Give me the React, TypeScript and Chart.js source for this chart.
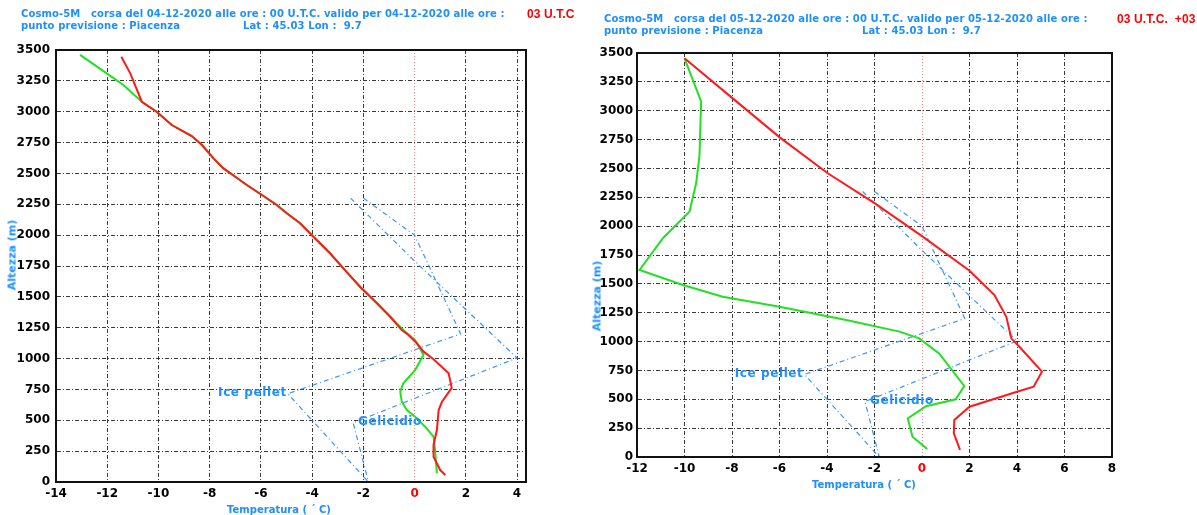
import React, { useEffect, useRef } from "react";
import { Chart, registerables } from "chart.js";

Chart.register(...registerables);

// ---------- Colours ----------
const RED = "#ff1a1a";
const GREEN = "#22e022";
const BLUE = "#1e8fff";
const BLUE_LINE = "#3a96ff";

// ---------- Axis ranges / ticks ----------
const heightMin = 0;
const heightMax = 3500;
const heightStep = 250;
const tempStep = 2;
const leftTempMin = -14;
const leftTempMax = 4.35;
const rightTempMin = -12;
const rightTempMax = 8;

// ---------- Left panel (04-12-2020) ----------
const leftTempHeights = [3445, 3311, 3081, 3000, 2892, 2803, 2730, 2622, 2541, 2473, 2406, 2325, 2244, 2177, 2096, 1987, 1853, 1731, 1582, 1448, 1339, 1231, 1191, 1124, 1083, 1056, 995, 880, 762, 650, 583, 421, 300, 205, 97, 57];
const leftTempValues = [-11.45, -11.1, -10.65, -10.07, -9.48, -8.7, -8.3, -7.85, -7.46, -7.0, -6.55, -5.96, -5.38, -4.99, -4.47, -3.95, -3.3, -2.78, -2.13, -1.47, -0.95, -0.5, -0.24, 0.09, 0.25, 0.35, 0.74, 1.33, 1.45, 1.07, 0.94, 0.87, 0.74, 0.74, 1.0, 1.2];
const leftDewHeights = [3460, 3311, 3216, 3081, 3000, 2892, 2803, 2730, 2622, 2541, 2473, 2406, 2325, 2244, 2177, 2096, 1987, 1853, 1731, 1582, 1448, 1339, 1231, 1150, 1029, 907, 800, 732, 651, 583, 516, 448, 367, 259, 70];
const leftDewValues = [-13.06, -12.02, -11.37, -10.65, -10.07, -9.48, -8.7, -8.3, -7.85, -7.46, -7.0, -6.55, -5.96, -5.38, -4.99, -4.47, -3.95, -3.3, -2.78, -2.13, -1.47, -0.95, -0.44, 0.02, 0.35, 0.02, -0.44, -0.56, -0.5, -0.3, 0.09, 0.41, 0.74, 0.8, 0.87];

// ---------- Right panel (05-12-2020) ----------
const rightTempHeights = [3454, 3107, 2769, 2458, 2200, 1909, 1614, 1403, 1215, 1028, 955, 739, 609, 566, 436, 320, 205, 61];
const rightTempValues = [-10.0, -7.97, -5.99, -3.97, -2.0, 0.03, 2.0, 3.05, 3.55, 3.76, 4.1, 5.05, 4.7, 4.0, 2.0, 1.36, 1.34, 1.6];
const rightDewHeights = [3454, 3080, 2606, 2371, 2125, 2068, 1895, 1620, 1490, 1389, 1302, 1187, 1086, 1028, 898, 615, 500, 440, 335, 176, 70];
const rightDewValues = [-10.0, -9.3, -9.37, -9.51, -9.79, -10.07, -10.91, -11.89, -10.07, -8.39, -6.0, -3.19, -0.95, -0.12, 0.72, 1.78, 1.42, 0.17, -0.6, -0.4, 0.22];

// ---------- Reference curves (same in both panels) ----------
const icePelletTemps = [-2.0, 0.0, 0.45, 1.8, -4.95, -1.8];
const icePelletHeights = [2300, 2000, 1800, 1200, 715, 0];
const icePelletVertex = 4;
const gelicidioTemps = [-2.5, 0.0, 4.0, -2.4, -1.8];
const gelicidioHeights = [2300, 1790, 1005, 480, 0];
const gelicidioVertex = 3;

const icePelletLabel = "Ice pellet";
const gelicidioLabel = "Gelicidio";
const xTitle = "Temperatura ( \u00b4 C)";
const yTitle = "Altezza (m)";

const zip = (xs: number[], ys: number[]) => xs.map((x, i) => ({ x, y: ys[i] }));

const TICK_FONT = { family: '"DejaVu Sans", sans-serif', weight: "bold" as const, size: 12 };

interface PanelGeom {
  canvasW: number;
  canvasH: number;
  plotLeft: number;
  plotRight: number;
  plotTop: number;
  plotBottom: number;
  xMin: number;
  xMax: number;
  yLabelPad: number;
  xLabelPad: number;
}

function makeConfig(g: PanelGeom, tempX: number[], tempY: number[], dewX: number[], dewY: number[]): any {
  const framePlugin = {
    id: "frame",
    afterDraw(chart: any) {
      const { ctx, chartArea: a } = chart;
      ctx.save();
      ctx.strokeStyle = "#111";
      ctx.lineWidth = 2;
      ctx.strokeRect(a.left, a.top, a.right - a.left, a.bottom - a.top);
      ctx.restore();
    },
  };
  const labelPlugin = {
    id: "curveLabels",
    afterDatasetsDraw(chart: any) {
      const { ctx, scales } = chart;
      const xs = scales.x;
      const ys = scales.y;
      ctx.save();
      ctx.font = 'bold 12px "DejaVu Sans", sans-serif';
      try { (ctx as any).letterSpacing = "0.6px"; } catch (e) {}
      ctx.fillStyle = BLUE;
      ctx.textBaseline = "middle";
      ctx.textAlign = "right";
      ctx.fillText(
        icePelletLabel,
        xs.getPixelForValue(icePelletTemps[icePelletVertex]) - 1,
        ys.getPixelForValue(icePelletHeights[icePelletVertex]) - 1
      );
      ctx.textAlign = "left";
      ctx.fillText(
        gelicidioLabel,
        xs.getPixelForValue(gelicidioTemps[gelicidioVertex]) + 5,
        ys.getPixelForValue(gelicidioHeights[gelicidioVertex]) - 1
      );
      ctx.restore();
    },
  };
  const gridColor = (ctx: any) => (ctx.tick && ctx.tick.value === 0 ? "rgba(255,90,90,0.75)" : "#3a3a3a");
  const gridDash = (ctx: any) => {
    if (!ctx.tick) return [];
    return ctx.tick.value === 0 ? [1, 2] : [4, 2, 1, 2];
  };
  return {
    type: "scatter",
    data: {
      datasets: [
        { data: zip(tempX, tempY), borderColor: RED, borderWidth: 2, showLine: true, pointRadius: 0, tension: 0 },
        { data: zip(dewX, dewY), borderColor: GREEN, borderWidth: 2, showLine: true, pointRadius: 0, tension: 0 },
        { data: zip(icePelletTemps, icePelletHeights), borderColor: BLUE_LINE, borderWidth: 1.2, borderDash: [5, 3, 1, 3], showLine: true, pointRadius: 0 },
        { data: zip(gelicidioTemps, gelicidioHeights), borderColor: BLUE_LINE, borderWidth: 1.2, borderDash: [5, 3, 1, 3], showLine: true, pointRadius: 0 },
      ],
    },
    options: {
      responsive: false,
      animation: false,
      events: [],
      layout: { padding: { left: 0, top: g.plotTop, right: g.canvasW - g.plotRight, bottom: 0 } },
      plugins: { legend: { display: false }, tooltip: { enabled: false }, title: { display: false } },
      scales: {
        x: {
          type: "linear",
          position: "bottom",
          min: g.xMin,
          max: g.xMax,
          afterFit: (s: any) => { s.height = g.canvasH - g.plotBottom; },
          ticks: {
            stepSize: tempStep,
            includeBounds: false,
            padding: g.xLabelPad,
            font: TICK_FONT,
            color: (ctx: any) => (ctx.tick && ctx.tick.value === 0 ? "#ff0000" : "#000"),
            callback: (v: any) => String(v),
          },
          grid: { color: gridColor, lineWidth: 1, drawTicks: false },
          border: { display: true, color: "#111", width: 2, dash: gridDash },
        },
        y: {
          type: "linear",
          position: "left",
          min: heightMin,
          max: heightMax,
          afterFit: (s: any) => { s.width = g.plotLeft; },
          ticks: {
            stepSize: heightStep,
            padding: g.yLabelPad,
            font: TICK_FONT,
            color: "#000",
            callback: (v: any) => String(v),
          },
          grid: { color: "#3a3a3a", lineWidth: 1, drawTicks: false },
          border: { display: true, color: "#111", width: 2, dash: gridDash },
        },
      },
    },
    plugins: [framePlugin, labelPlugin],
  };
}

const leftGeom: PanelGeom = {
  canvasW: 590, canvasH: 515, plotLeft: 56, plotRight: 526, plotTop: 50, plotBottom: 482,
  xMin: leftTempMin, xMax: leftTempMax, yLabelPad: 6, xLabelPad: 5,
};
const RIGHT_OFFSET = 590;
const rightGeom: PanelGeom = {
  canvasW: 607, canvasH: 515, plotLeft: 637 - RIGHT_OFFSET, plotRight: 1112 - RIGHT_OFFSET, plotTop: 53, plotBottom: 457,
  xMin: rightTempMin, xMax: rightTempMax, yLabelPad: 4, xLabelPad: 5,
};

const txt = (extra: React.CSSProperties): React.CSSProperties => ({
  position: "absolute",
  fontFamily: '"DejaVu Sans", sans-serif',
  fontWeight: "bold",
  fontSize: 10,
  lineHeight: "12px",
  color: BLUE,
  whiteSpace: "pre",
  letterSpacing: "0.1px",
  ...extra,
});

const centered = (x: number, y: number, extra: React.CSSProperties = {}): React.CSSProperties => ({
  position: "absolute",
  left: x,
  top: y,
  transform: "translate(-50%, -50%)",
  fontFamily: '"DejaVu Sans", sans-serif',
  fontWeight: "bold",
  fontSize: 10,
  color: BLUE,
  whiteSpace: "pre",
  ...extra,
});

export default function App() {
  const leftRef = useRef<HTMLCanvasElement>(null);
  const rightRef = useRef<HTMLCanvasElement>(null);

  useEffect(() => {
    const c1 = new Chart(leftRef.current as HTMLCanvasElement, makeConfig(leftGeom, leftTempValues, leftTempHeights, leftDewValues, leftDewHeights));
    const c2 = new Chart(rightRef.current as HTMLCanvasElement, makeConfig(rightGeom, rightTempValues, rightTempHeights, rightDewValues, rightDewHeights));
    return () => {
      c1.destroy();
      c2.destroy();
    };
  }, []);

  return (
    <div style={{ position: "absolute", left: 0, top: 0, width: 1197, height: 515, background: "#fff", overflow: "hidden" }}>
      <canvas ref={leftRef} width={leftGeom.canvasW} height={leftGeom.canvasH} style={{ position: "absolute", left: 0, top: 0, width: leftGeom.canvasW, height: leftGeom.canvasH }} />
      <canvas ref={rightRef} width={rightGeom.canvasW} height={rightGeom.canvasH} style={{ position: "absolute", left: RIGHT_OFFSET, top: 0, width: rightGeom.canvasW, height: rightGeom.canvasH }} />

      {/* Left header */}
      <div style={txt({ left: 21, top: 8 })}>{"Cosmo-5M   corsa del 04-12-2020 alle ore : 00 U.T.C. valido per 04-12-2020 alle ore :"}</div>
      <div style={txt({ left: 527, top: 7, color: "#ff0000", fontSize: 12, lineHeight: "14px", fontFamily: '"Liberation Sans", Arial, sans-serif' })}>{"03 U.T.C"}</div>
      <div style={txt({ left: 21, top: 20 })}>{"punto previsione : Piacenza"}</div>
      <div style={txt({ left: 243, top: 20 })}>{"Lat : 45.03 Lon :  9.7"}</div>

      {/* Right header */}
      <div style={txt({ left: 604, top: 13 })}>{"Cosmo-5M   corsa del 05-12-2020 alle ore : 00 U.T.C. valido per 05-12-2020 alle ore :"}</div>
      <div style={txt({ left: 1117, top: 12, color: "#ff0000", fontSize: 12, lineHeight: "14px", fontFamily: '"Liberation Sans", Arial, sans-serif' })}>{"03 U.T.C.  +03"}</div>
      <div style={txt({ left: 604, top: 25 })}>{"punto previsione : Piacenza"}</div>
      <div style={txt({ left: 862, top: 25 })}>{"Lat : 45.03 Lon :  9.7"}</div>

      {/* Axis titles */}
      <div style={centered(279, 509)}>{xTitle}</div>
      <div style={centered(864, 484)}>{xTitle}</div>
      <div style={centered(12, 255, { transform: "translate(-50%, -50%) rotate(-90deg)", fontSize: 11 })}>{yTitle}</div>
      <div style={centered(597, 296, { transform: "translate(-50%, -50%) rotate(-90deg)", fontSize: 11 })}>{yTitle}</div>
    </div>
  );
}
